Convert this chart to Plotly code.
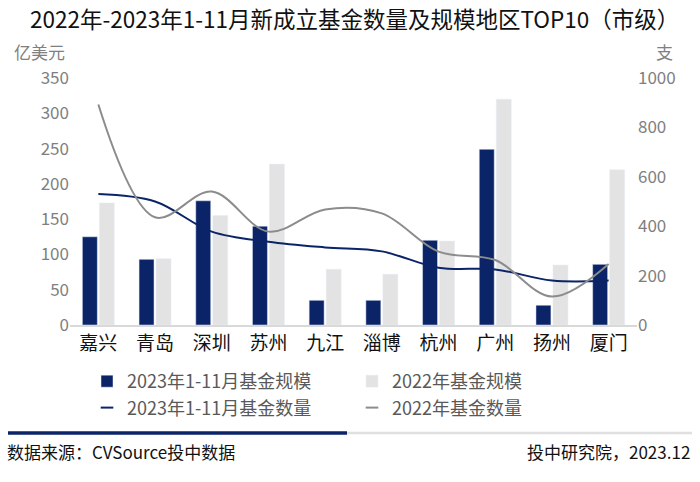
import plotly.graph_objects as go

cities = ["嘉兴", "青岛", "深圳", "苏州", "九江", "淄博", "杭州", "广州", "扬州", "厦门"]
scale_2023 = [125, 93, 176, 140, 35, 35, 120, 249, 28, 86]
scale_2022 = [173, 94, 155, 228, 79, 72, 119, 320, 85, 220]
count_2023 = [530, 500, 378, 337, 314, 298, 232, 225, 180, 180]
count_2022 = [893, 436, 540, 378, 468, 452, 297, 263, 115, 247]

NAVY = "#0B2468"
LGRAY = "#E3E3E3"
DGRAY = "#8C8C8C"
FONT = "Noto Sans CJK SC"

W, H = 700, 482
L, R, T, B = 70, 63, 78, 157
PW, PH = W - L - R, H - T - B

def px(x):
    return (x - L) / PW

def py(y):
    return (H - B - y) / PH

fig = go.Figure()
fig.add_trace(go.Bar(x=cities, y=scale_2023, name="2023年1-11月基金规模",
                     marker_color=NAVY, yaxis="y"))
fig.add_trace(go.Bar(x=cities, y=scale_2022, name="2022年基金规模",
                     marker_color=LGRAY, yaxis="y"))
fig.add_trace(go.Scatter(x=cities, y=count_2023, name="2023年1-11月基金数量",
                         mode="lines", line=dict(color=NAVY, width=2, shape="spline"),
                         yaxis="y2", showlegend=False))
fig.add_trace(go.Scatter(x=cities, y=count_2022, name="2022年基金数量",
                         mode="lines", line=dict(color=DGRAY, width=2, shape="spline"),
                         yaxis="y2", showlegend=False))
# legend entries with short dash symbols for the two lines
fig.add_trace(go.Scatter(x=[None], y=[None], name="2023年1-11月基金数量", mode="markers",
                         marker=dict(symbol="line-ew", size=9, line=dict(color=NAVY, width=2)),
                         yaxis="y2"))
fig.add_trace(go.Scatter(x=[None], y=[None], name="2022年基金数量", mode="markers",
                         marker=dict(symbol="line-ew", size=9, line=dict(color=DGRAY, width=2)),
                         yaxis="y2"))

shapes = [
    dict(type="line", xref="paper", yref="paper", x0=px(8), x1=px(347), y0=py(433), y1=py(433),
         line=dict(color=NAVY, width=3.5)),
    dict(type="line", xref="paper", yref="paper", x0=px(347), x1=px(692), y0=py(433), y1=py(433),
         line=dict(color="#E0E0E0", width=2.5)),
]

annotations = [
    dict(text="2022年-2023年1-11月新成立基金数量及规模地区TOP10（市级）", xref="paper", yref="paper",
         x=px(354), y=py(18), xanchor="center", yanchor="middle", showarrow=False,
         font=dict(size=22.5, color="#111111", family=FONT)),
    dict(text="亿美元", xref="paper", yref="paper", x=px(12), y=py(52), xanchor="left",
         yanchor="middle", showarrow=False, font=dict(size=17, color="#7F7F7F", family=FONT)),
    dict(text="支", xref="paper", yref="paper", x=px(664), y=py(52), xanchor="center",
         yanchor="middle", showarrow=False, font=dict(size=17, color="#7F7F7F", family=FONT)),
    dict(text="数据来源：CVSource投中数据", xref="paper", yref="paper", x=px(5), y=py(451),
         xanchor="left", yanchor="middle", showarrow=False,
         font=dict(size=17, color="#111111", family=FONT)),
    dict(text="投中研究院，2023.12", xref="paper", yref="paper", x=px(692), y=py(451),
         xanchor="right", yanchor="middle", showarrow=False,
         font=dict(size=17, color="#111111", family=FONT)),
]

fig.update_layout(
    width=W, height=H,
    margin=dict(l=L, r=R, t=T, b=B, pad=0),
    paper_bgcolor="white", plot_bgcolor="white",
    font=dict(family=FONT),
    barmode="group", bargap=0.4, bargroupgap=0.12,
    showlegend=True,
    legend=dict(orientation="h", x=px(87), y=py(363), xanchor="left", yanchor="top",
                entrywidth=220, entrywidthmode="pixels", traceorder="normal",
                font=dict(size=18, color="#595959", family=FONT),
                tracegroupgap=0),
    xaxis=dict(showline=True, linecolor="#D9D9D9", linewidth=1.5, showgrid=False,
               ticks="", tickfont=dict(size=19, color="#111111", family=FONT)),
    yaxis=dict(range=[0, 350], dtick=50, showgrid=False, zeroline=False, showline=False,
               ticks="", tickfont=dict(size=17, color="#7F7F7F", family=FONT)),
    yaxis2=dict(range=[0, 1000], dtick=200, overlaying="y", side="right", showgrid=False,
                zeroline=False, showline=False, ticks="",
                tickfont=dict(size=17, color="#7F7F7F", family=FONT)),
    shapes=shapes,
    annotations=annotations,
)

fig.write_html("out.html", config={"displayModeBar": False},
               post_script="document.body.style.margin='0';")
